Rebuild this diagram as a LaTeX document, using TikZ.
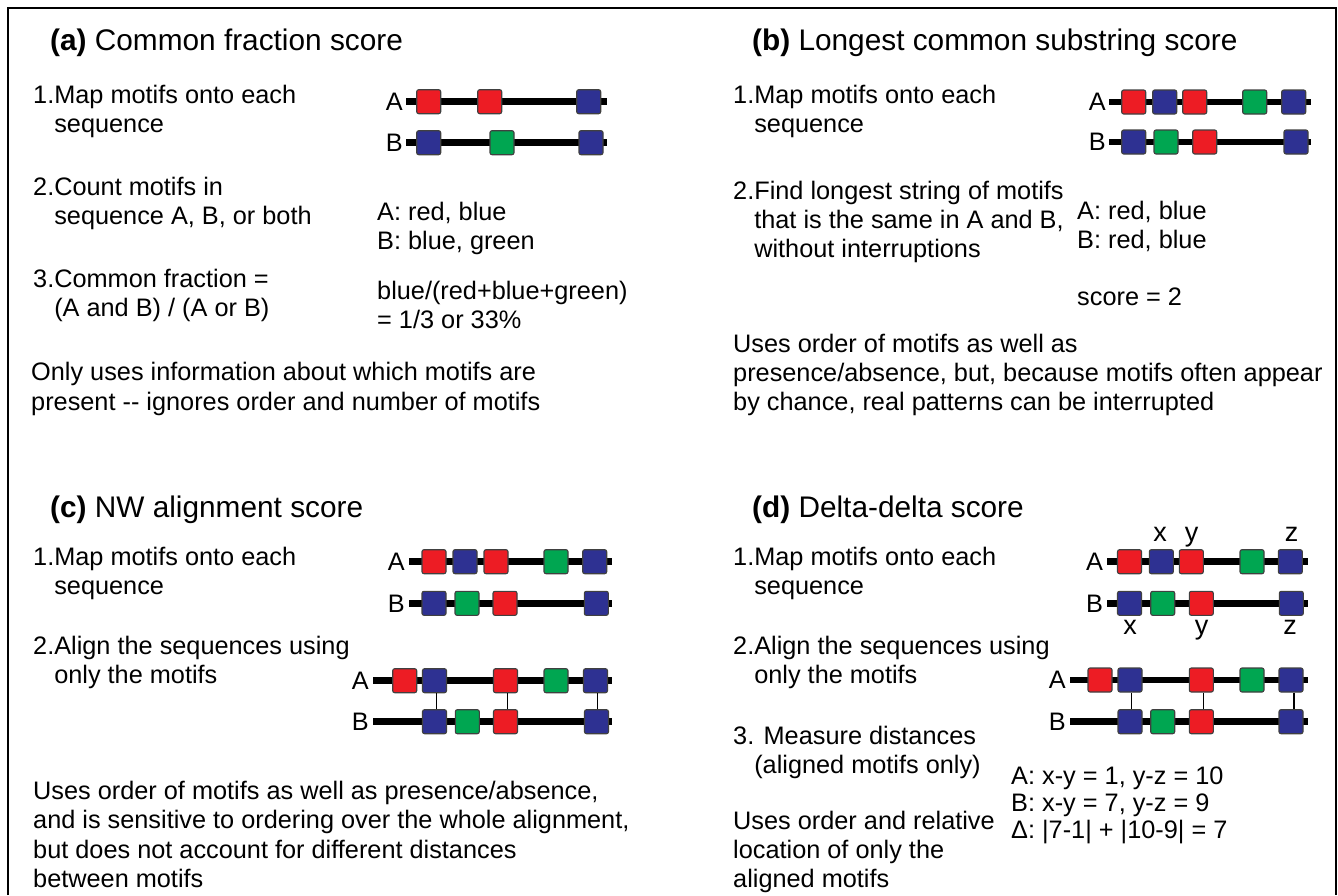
\documentclass[tikz,border=0pt]{standalone}
\usepackage{fontspec}
\setmainfont{Liberation Sans}
\definecolor{mred}{HTML}{ED1C24}
\definecolor{mblue}{HTML}{2E3192}
\definecolor{mgreen}{HTML}{00A651}
\newcommand{\bodyfont}{\fontsize{25.3}{30}\selectfont}
\newcommand{\ttlfont}{\fontsize{29.8}{34}\selectfont}
\newcommand{\xyzfont}{\fontsize{27}{30}\selectfont}
\newcommand{\T}[4]{\node[txt] (#1) at (#2,#3) {#4};}
\newcommand{\I}{\hphantom{1.}}
\tikzset{
  mbox/.style={draw=black!75, line width=1.1pt, rounded corners=2pt, minimum size=24pt, inner sep=0pt, fill=#1},
  seqline/.style={line width=6.5pt},
  link/.style={line width=1.3pt},
  txt/.style={anchor=base west, inner sep=0pt, font=\bodyfont},
  ttl/.style={anchor=base west, inner sep=0pt, font=\ttlfont},
  seqlab/.style={anchor=east, inner sep=0pt, font=\bodyfont},
  xyz/.style={anchor=base, inner sep=0pt, font=\xyzfont}
}
\begin{document}
\begin{tikzpicture}[x=1pt, y=-1pt]
\useasboundingbox (0,0) rectangle (1338,895);
\draw[line width=1.4pt] (8,895) -- (8,8) -- (1336,8) -- (1336,895);

% ---------- (a) ----------
\node[ttl] (ta) at (50,50) {\textbf{(a)} Common fraction score};
\T{a1}{33}{103}{1.Map motifs onto each}
\T{a1b}{33}{132.5}{\I sequence}
\T{a2}{33}{195}{2.Count motifs in}
\T{a2b}{33}{224.5}{\I sequence A, B, or both}
\T{a3}{33}{287}{3.Common fraction =}
\T{a3b}{33}{316.5}{\I (A and B) / (A or B)}
\T{ar1}{377}{220}{A: red, blue}
\T{ar2}{377}{249}{B: blue, green}
\T{ar3}{377}{299}{blue/(red+blue+green)}
\T{ar4}{377}{328}{= 1/3 or 33\%}
\T{an1}{31}{380}{Only uses information about which motifs are}
\T{an2}{31}{410}{present -{}- ignores order and number of motifs}

\node[seqlab] (aLA) at (403,101.7) {A};
\node[seqlab] (aLB) at (403,142.7) {B};
\coordinate (aEA) at (607,101.7);
\coordinate (aEB) at (607,142.7);
\draw[seqline] ([xshift=3pt]aLA.east) -- (aEA);
\draw[seqline] ([xshift=3pt]aLB.east) -- (aEB);
\node[mbox=mred] (aA1) at (428.7,101.7) {};
\node[mbox=mred] (aA2) at (489.7,101.7) {};
\node[mbox=mblue] (aA3) at (588.7,101.7) {};
\node[mbox=mblue] (aB1) at (428.7,142.7) {};
\node[mbox=mgreen] (aB2) at (502,142.7) {};
\node[mbox=mblue] (aB3) at (591,142.7) {};

% ---------- (b) ----------
\node[ttl] (tb) at (752,50) {\textbf{(b)} Longest common substring score};
\T{b1}{733}{103}{1.Map motifs onto each}
\T{b1b}{733}{132.5}{\I sequence}
\T{b2}{733}{199}{2.Find longest string of motifs}
\T{b2b}{733}{228.5}{\I that is the same in A and B,}
\T{b2c}{733}{257}{\I without interruptions}
\T{br1}{1077}{219}{A: red, blue}
\T{br2}{1077}{248.5}{B: red, blue}
\T{br3}{1077}{305.5}{score = 2}
\T{bn1}{733}{352}{Uses order of motifs as well as}
\T{bn2}{733}{381.5}{presence/absence, but, because motifs often appear}
\T{bn3}{733}{410}{by chance, real patterns can be interrupted}

\node[seqlab] (bLA) at (1106,102) {A};
\node[seqlab] (bLB) at (1106,142) {B};
\coordinate (bEA) at (1311,102);
\coordinate (bEB) at (1311,142);
\draw[seqline] ([xshift=3pt]bLA.east) -- (bEA);
\draw[seqline] ([xshift=3pt]bLB.east) -- (bEB);
\node[mbox=mred] (bA1) at (1133.7,102) {};
\node[mbox=mblue] (bA2) at (1164.7,102) {};
\node[mbox=mred] (bA3) at (1194.7,102) {};
\node[mbox=mgreen] (bA4) at (1254.7,102) {};
\node[mbox=mblue] (bA5) at (1293.7,102) {};
\node[mbox=mblue] (bB1) at (1133.7,142) {};
\node[mbox=mgreen] (bB2) at (1166,142) {};
\node[mbox=mred] (bB3) at (1204.7,142) {};
\node[mbox=mblue] (bB4) at (1296,142) {};

% ---------- (c) ----------
\node[ttl] (tc) at (50,517.5) {\textbf{(c)} NW alignment score};
\T{c1}{33}{565}{1.Map motifs onto each}
\T{c1b}{33}{594.5}{\I sequence}
\T{c2}{33}{654}{2.Align the sequences using}
\T{c2b}{33}{683.5}{\I only the motifs}
\T{cn1}{33}{799}{Uses order of motifs as well as presence/absence,}
\T{cn2}{33}{828.5}{and is sensitive to ordering over the whole alignment,}
\T{cn3}{33}{858}{but does not account for different distances}
\T{cn4}{33}{887.5}{between motifs}

\node[seqlab] (cLA) at (405,561.7) {A};
\node[seqlab] (cLB) at (405,603.3) {B};
\coordinate (cEA) at (612,561.7);
\coordinate (cEB) at (612,603.3);
\draw[seqline] ([xshift=4pt]cLA.east) -- (cEA);
\draw[seqline] ([xshift=4pt]cLB.east) -- (cEB);
\node[mbox=mred] (cA1) at (434,561.7) {};
\node[mbox=mblue] (cA2) at (465,561.7) {};
\node[mbox=mred] (cA3) at (496,561.7) {};
\node[mbox=mgreen] (cA4) at (556,561.7) {};
\node[mbox=mblue] (cA5) at (594.7,561.7) {};
\node[mbox=mblue] (cB1) at (434,603.3) {};
\node[mbox=mgreen] (cB2) at (467,603.3) {};
\node[mbox=mred] (cB3) at (505,603.3) {};
\node[mbox=mblue] (cB4) at (596.3,603.3) {};

\node[seqlab] (cMA) at (369,680.7) {A};
\node[seqlab] (cMB) at (369,721.7) {B};
\coordinate (cFA) at (612,680.7);
\coordinate (cFB) at (612,721.7);
\draw[seqline] ([xshift=4pt]cMA.east) -- (cFA);
\draw[seqline] ([xshift=4pt]cMB.east) -- (cFB);
\node[mbox=mred] (cP1) at (404.7,680.7) {};
\node[mbox=mblue] (cP2) at (434.5,680.7) {};
\node[mbox=mred] (cP3) at (505.5,680.7) {};
\node[mbox=mgreen] (cP4) at (556,680.7) {};
\node[mbox=mblue] (cP5) at (595.5,680.7) {};
\node[mbox=mblue] (cQ1) at (434.5,721.7) {};
\node[mbox=mgreen] (cQ2) at (467.3,721.7) {};
\node[mbox=mred] (cQ3) at (505.5,721.7) {};
\node[mbox=mblue] (cQ4) at (596.5,721.7) {};
\draw[link] ([xshift=2pt]cP2.south) -- ([xshift=2pt]cQ1.north);
\draw[link] ([xshift=2pt]cP3.south) -- ([xshift=2pt]cQ3.north);
\draw[link] ([xshift=2pt]cP5.south) -- ([xshift=1pt]cQ4.north);

% ---------- (d) ----------
\node[ttl] (td) at (752,517.5) {\textbf{(d)} Delta-delta score};
\T{d1}{733}{565}{1.Map motifs onto each}
\T{d1b}{733}{594.5}{\I sequence}
\T{d2}{733}{654}{2.Align the sequences using}
\T{d2b}{733}{683.5}{\I only the motifs}
\T{d3}{733}{744}{3. Measure distances}
\T{d3b}{733}{773.5}{\I (aligned motifs only)}
\T{dn1}{733}{829}{Uses order and relative}
\T{dn2}{733}{858}{location of only the}
\T{dn3}{733}{887.5}{aligned motifs}
\T{dr1}{1011}{784.5}{A: x-y = 1, y-z = 10}
\T{dr2}{1011}{811.5}{B: x-y = 7, y-z = 9}
\T{dr3}{1011}{838.5}{Δ: |7-1| + |10-9| = 7}

\node[seqlab] (dLA) at (1103.3,561.7) {A};
\node[seqlab] (dLB) at (1103.3,603.3) {B};
\coordinate (dEA) at (1308.3,561.7);
\coordinate (dEB) at (1308.3,603.3);
\draw[seqline] ([xshift=4pt]dLA.east) -- (dEA);
\draw[seqline] ([xshift=4pt]dLB.east) -- (dEB);
\node[mbox=mred] (dA1) at (1129.5,561.7) {};
\node[mbox=mblue] (dA2) at (1161.3,561.7) {};
\node[mbox=mred] (dA3) at (1191.3,561.7) {};
\node[mbox=mgreen] (dA4) at (1252,561.7) {};
\node[mbox=mblue] (dA5) at (1290.3,561.7) {};
\node[mbox=mblue] (dB1) at (1129.5,603.3) {};
\node[mbox=mgreen] (dB2) at (1162.7,603.3) {};
\node[mbox=mred] (dB3) at (1201.3,603.3) {};
\node[mbox=mblue] (dB4) at (1291.3,603.3) {};
\node[xyz] (dxa) at (1160,541) {x};
\node[xyz] (dya) at (1191.7,541) {y};
\node[xyz] (dza) at (1291.7,541) {z};
\node[xyz] (dxb) at (1130,634.5) {x};
\node[xyz] (dyb) at (1201.7,634.5) {y};
\node[xyz] (dzb) at (1290,634.5) {z};

\node[seqlab] (dMA) at (1066,680) {A};
\node[seqlab] (dMB) at (1066,721.7) {B};
\coordinate (dFA) at (1308.3,680);
\coordinate (dFB) at (1308.3,721.7);
\draw[seqline] ([xshift=4pt]dMA.east) -- (dFA);
\draw[seqline] ([xshift=4pt]dMB.east) -- (dFB);
\node[mbox=mred] (dP1) at (1100,680) {};
\node[mbox=mblue] (dP2) at (1130,680) {};
\node[mbox=mred] (dP3) at (1201.3,680) {};
\node[mbox=mgreen] (dP4) at (1252,680) {};
\node[mbox=mblue] (dP5) at (1291,680) {};
\node[mbox=mblue] (dQ1) at (1130,721.7) {};
\node[mbox=mgreen] (dQ2) at (1162.7,721.7) {};
\node[mbox=mred] (dQ3) at (1201.3,721.7) {};
\node[mbox=mblue] (dQ4) at (1291,721.7) {};
\draw[link] ([xshift=1.5pt]dP2.south) -- ([xshift=1.5pt]dQ1.north);
\draw[link] ([xshift=2.5pt]dP3.south) -- ([xshift=2.5pt]dQ3.north);
\draw[link] ([xshift=3pt]dP5.south) -- ([xshift=3pt]dQ4.north);
\end{tikzpicture}
\end{document}
